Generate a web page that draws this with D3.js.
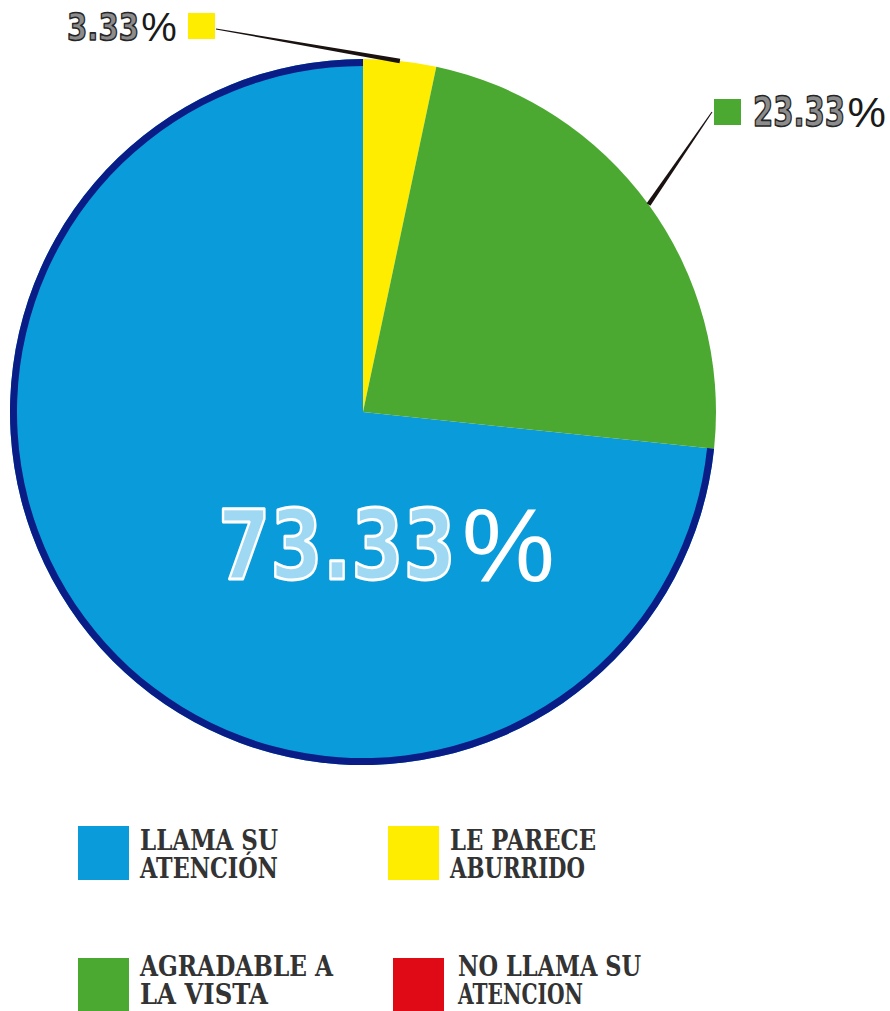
<!DOCTYPE html>
<html>
<head>
<meta charset="utf-8">
<script src="https://cdn.jsdelivr.net/npm/d3@7"></script>
<style>
  html, body { margin: 0; padding: 0; background: #ffffff; }
  svg { display: block; }
</style>
</head>
<body>
<svg id="chart" width="890" height="1011"></svg>
<script>
// Survey answers, in series order
const categories = ["LLAMA SU ATENCIÓN", "LE PARECE ABURRIDO", "AGRADABLE A LA VISTA", "NO LLAMA SU ATENCION"];
const legendLines = [["LLAMA SU", "ATENCIÓN"], ["LE PARECE", "ABURRIDO"], ["AGRADABLE A", "LA VISTA"], ["NO LLAMA SU", "ATENCION"]];
const values = [73.33, 3.33, 23.33, 0];
const colors = ["#0a9bdb", "#ffed00", "#4ba931", "#e00a16"];
const rimColor = "#0a1c85";

const svg = d3.select("#chart");
const cx = 363, cy = 412, R = 353;
const total = d3.sum(values);
const tau = 2 * Math.PI;
const offset = -values[0] / total * tau;   // first slice ends at 12 o'clock

const pie = d3.pie().sort(null).value(d => d)
  .startAngle(offset).endAngle(offset + tau);
const arcs = pie(values);
const arc = d3.arc().innerRadius(0).outerRadius(R);
const rim = d3.arc().innerRadius(R - 7).outerRadius(R);

const g = svg.append("g").attr("transform", `translate(${cx},${cy})`);
g.selectAll("path.slice")
  .data(arcs.filter(a => a.value > 0))
  .join("path")
  .attr("class", "slice")
  .attr("d", arc)
  .attr("fill", d => colors[d.index]);

// dark rim along the main slice
g.append("path").attr("d", rim(arcs[0])).attr("fill", rimColor);

// squeeze a text element horizontally to a given width
function fitWidth(sel, x, y, width) {
  const natural = sel.node().getComputedTextLength();
  const sx = width / natural;
  sel.attr("x", 0).attr("y", 0)
    .attr("transform", `translate(${x},${y}) scale(${sx},1)`);
}

// outlined varsity-style number followed by a plain percent sign
function outlinedLabel(x, y, value, size, digitsWidth, style) {
  const digits = d3.format(".2f")(value);
  const light = style === "light";
  const grp = svg.append("g");
  const t = grp.append("text")
    .attr("font-family", "DejaVu Sans").attr("font-weight", "bold")
    .attr("font-size", size)
    .attr("fill", light ? "#9fd8f3" : "#8c8c8c")
    .attr("stroke", light ? "#ffffff" : "#262626")
    .attr("stroke-width", light ? 3 : 1.6)
    .attr("stroke-linejoin", "round")
    .text(digits);
  fitWidth(t, x, y, digitsWidth);
  grp.append("text")
    .attr("x", x + digitsWidth + size * 0.06).attr("y", y + size * 0.02)
    .attr("font-family", "Liberation Sans").attr("font-size", size * 1.08)
    .attr("fill", light ? "#ffffff" : "#1a1a1a")
    .text("%");
  return grp;
}

// label inside the main slice
outlinedLabel(218, 579, values[0], 97, 238, "light");

// tapered leader line from a slice edge to its marker
function leader(p0, p1, w0, w1) {
  const dx = p1[0] - p0[0], dy = p1[1] - p0[1];
  const len = Math.hypot(dx, dy);
  const nx = -dy / len, ny = dx / len;
  const pts = [
    [p0[0] + nx * w0 / 2, p0[1] + ny * w0 / 2],
    [p1[0] + nx * w1 / 2, p1[1] + ny * w1 / 2],
    [p1[0] - nx * w1 / 2, p1[1] - ny * w1 / 2],
    [p0[0] - nx * w0 / 2, p0[1] - ny * w0 / 2]
  ];
  svg.append("path").attr("d", "M" + pts.join("L") + "Z").attr("fill", "#1a1111");
}
function edgePoint(a) {
  const m = (a.startAngle + a.endAngle) / 2;
  return [cx + Math.sin(m) * R, cy - Math.cos(m) * R];
}

// outside callouts for the small slices
const callouts = [
  { i: 1, marker: [188, 13], text: [67, 40], size: 37, width: 72, anchor: [216, 29] },
  { i: 2, marker: [714, 99], text: [753, 126], size: 40, width: 92, anchor: [712, 112] }
];
callouts.forEach(c => {
  const a = arcs[c.i];
  leader(edgePoint(a), c.anchor, 4.5, 1);
  svg.append("rect")
    .attr("x", c.marker[0]).attr("y", c.marker[1])
    .attr("width", 27).attr("height", 26)
    .attr("fill", colors[c.i]);
  outlinedLabel(c.text[0], c.text[1], values[c.i], c.size, c.width, "dark");
});

// legend, two columns by two rows; each entry is one two-line text
const legendPos = [[78, 826], [388, 826], [78, 958], [393, 958]];
const legendWidths = [[138, 138], [146, 135], [193, 128], [183, 125]];
const lineBase = [[850, 878], [850, 878], [976, 1004], [976, 1004]];
categories.forEach((cat, i) => {
  const [x, y] = legendPos[i];
  svg.append("rect")
    .attr("x", x).attr("y", y).attr("width", 51).attr("height", 54)
    .attr("fill", colors[i]);
  const tx = x + 62 + (i === 3 ? 3 : 0);
  const t = svg.append("text")
    .attr("font-family", "DejaVu Serif").attr("font-weight", "bold")
    .attr("font-size", 27)
    .attr("fill", "#333333");
  legendLines[i].forEach((line, j) => {
    t.append("tspan")
      .attr("x", tx).attr("y", lineBase[i][j])
      .attr("textLength", legendWidths[i][j]).attr("lengthAdjust", "spacingAndGlyphs")
      .text(line);
  });
});
</script>
</body>
</html>
